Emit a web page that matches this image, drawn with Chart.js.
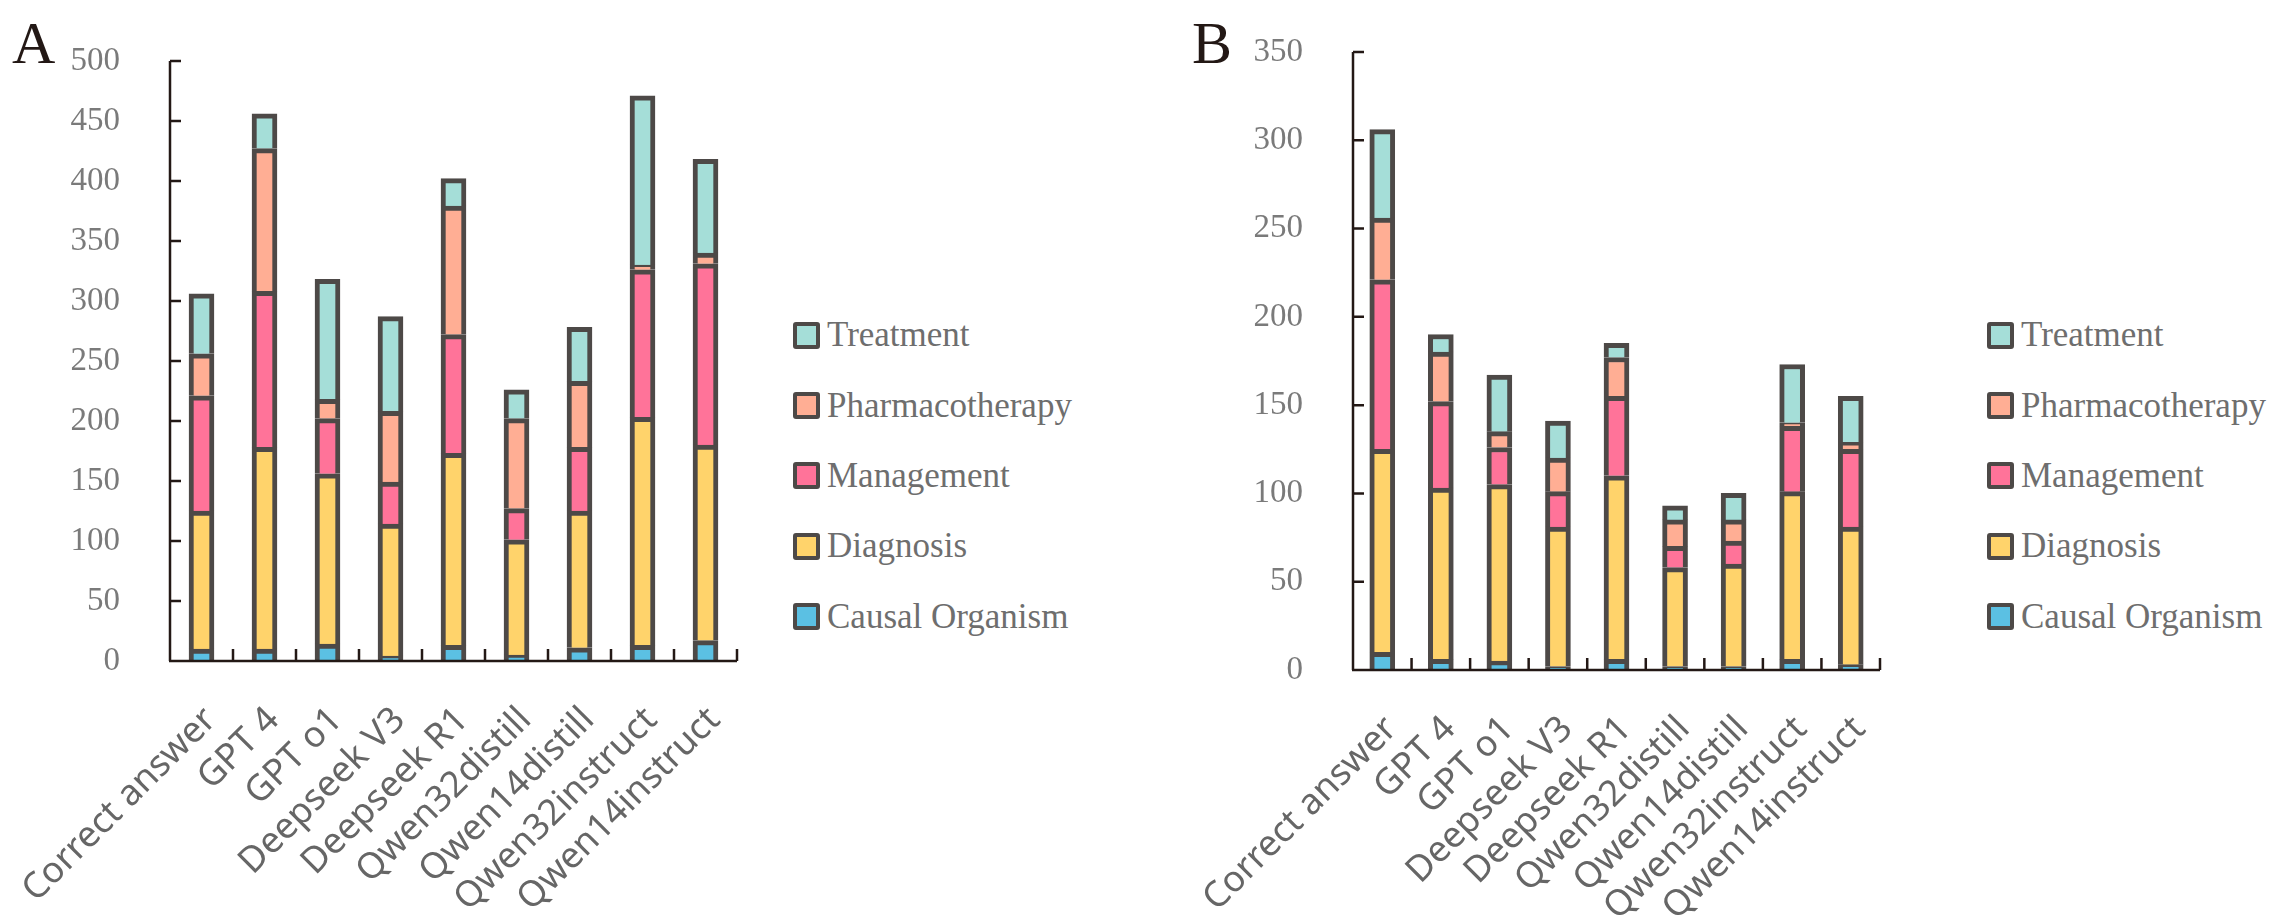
<!DOCTYPE html>
<html>
<head>
<meta charset="utf-8">
<script src="https://cdn.jsdelivr.net/npm/chart.js@4.4.1/dist/chart.umd.min.js"></script>
<style>
  html, body { margin: 0; padding: 0; background: #fff; }
  body { width: 2283px; height: 916px; position: relative; overflow: hidden; }
  .panel { position: absolute; top: 13px; font-family: "Liberation Serif", serif; font-size: 60px; line-height: 60px; color: #231815; }
  .box { position: absolute; top: 0; height: 916px; }
  .legend { position: absolute; top: 300px; font-family: "Liberation Serif", serif; font-size: 35px; color: #6e6e6e; }
  .legend .row { height: 70.4px; display: flex; align-items: center; white-space: nowrap; }
  .legend .swatch { width: 19px; height: 19px; border: 4px solid #4d4947; border-radius: 3px; margin-right: 7px; }
</style>
</head>
<body>
<div class="panel" style="left:12px">A</div>
<div class="panel" style="left:1192px">B</div>
<div class="box" style="left:0; width:776px"><canvas id="chartA"></canvas></div>
<div class="box" style="left:1140px; width:780px"><canvas id="chartB"></canvas></div>
<div class="legend" id="legendA" style="left:793px"></div>
<div class="legend" id="legendB" style="left:1987px"></div>

<script>
// Categories (models)
const models = ["Correct answer", "GPT 4", "GPT o1", "Deepseek V3", "Deepseek R1",
                "Qwen32distill", "Qwen14distill", "Qwen32instruct", "Qwen14instruct"];

// Series, bottom of the stack first
const series = ["Causal Organism", "Diagnosis", "Management", "Pharmacotherapy", "Treatment"];

// Panel A values
const causalA     = [10, 10, 14, 4, 13, 5, 11, 13, 17];
const diagnosisA  = [115, 168, 142, 110, 160, 96, 114, 190, 163];
const managementA = [96, 130, 46, 35, 99, 26, 53, 123, 151];
const pharmaA     = [35, 119, 16, 59, 107, 75, 55, 4, 9];
const treatmentA  = [50, 29, 100, 79, 23, 24, 45, 141, 78];

// Panel B values
const causalB     = [10, 6, 5, 2, 6, 2, 2, 6, 3];
const diagnosisB  = [115, 97, 100, 79, 104, 56, 58, 95, 78];
const managementB = [96, 49, 21, 20, 45, 12, 13, 37, 44];
const pharmaB     = [35, 28, 9, 19, 22, 15, 12, 2, 4];
const treatmentB  = [50, 10, 32, 21, 8, 8, 15, 33, 26];

// Y tick settings
const yMaxA = 500, yMaxB = 350, yStep = 50;

// Colors
const colors = ["#5BC0E3", "#FFD36B", "#FF7399", "#FFAE94", "#A5DED8"];
const edgeColor = "#4d4947";
const axisColor = "#231815";

// Axis lines with inward ticks, drawn from the chart's scales
const axesPlugin = {
    id: "axes",
    afterDatasetsDraw(chart) {
        const { ctx, chartArea: a, scales: { x, y } } = chart;
        const half = (x.getPixelForValue(1) - x.getPixelForValue(0)) / 2;
        ctx.save();
        ctx.strokeStyle = axisColor;
        ctx.lineWidth = 2.5;
        ctx.beginPath();
        ctx.moveTo(a.left, y.getPixelForValue(y.max));
        ctx.lineTo(a.left, a.bottom);
        y.ticks.forEach(t => {
            const py = y.getPixelForValue(t.value);
            ctx.moveTo(a.left, py);
            ctx.lineTo(a.left + 11, py);
        });
        const right = x.getPixelForValue(models.length - 1) + half;
        ctx.moveTo(a.left - 1, a.bottom);
        ctx.lineTo(right, a.bottom);
        models.forEach((m, i) => {
            const px = x.getPixelForValue(i) + half;
            ctx.moveTo(px, a.bottom);
            ctx.lineTo(px, a.bottom - 12);
        });
        ctx.stroke();
        ctx.restore();
    }
};

// Fixed axis sizes so the plot area lands where the reference has it
function noPad(s) {
    s.paddingLeft = 0; s.paddingRight = 0; s.paddingTop = 0; s.paddingBottom = 0;
}

function makeChart(id, values, yMax, yWidth, xHeight, pad) {
    const ctx = document.getElementById(id).getContext("2d");
    return new Chart(ctx, {
        type: "bar",
        data: {
            labels: models,
            datasets: series.map((name, i) => ({
                label: name,
                data: values[i],
                backgroundColor: colors[i],
                borderColor: edgeColor,
                borderWidth: 5,
                barThickness: 25
            }))
        },
        options: {
            responsive: true,
            maintainAspectRatio: false,
            animation: false,
            layout: { padding: pad },
            plugins: {
                legend: { display: false },
                tooltip: { enabled: false }
            },
            scales: {
                x: {
                    stacked: true,
                    grid: { display: false, drawTicks: false },
                    border: { display: false },
                    ticks: {
                        autoSkip: false,
                        maxRotation: 45,
                        minRotation: 45,
                        padding: 38,
                        labelOffset: 9,
                        color: "#666666",
                        font: { family: "Noto Sans", size: 36 }
                    },
                    afterFit: s => { s.height = xHeight; noPad(s); }
                },
                y: {
                    stacked: true,
                    min: 0,
                    max: yMax,
                    grid: { display: false, drawTicks: false },
                    border: { display: false },
                    ticks: {
                        stepSize: yStep,
                        padding: 50,
                        color: "#7a7a7a",
                        font: { family: "Liberation Serif", size: 33 }
                    },
                    afterFit: s => { s.width = yWidth; noPad(s); }
                }
            }
        },
        plugins: [axesPlugin]
    });
}

const chartA = makeChart("chartA", [causalA, diagnosisA, managementA, pharmaA, treatmentA],
    yMaxA, 170, 255, { top: 61, right: 39, bottom: 0, left: 0 });
const chartB = makeChart("chartB", [causalB, diagnosisB, managementB, pharmaB, treatmentB],
    yMaxB, 213, 246, { top: 52, right: 40, bottom: 0, left: 0 });

// Legends, top entry is the top of the stack
function buildLegend(elId) {
    const el = document.getElementById(elId);
    series.slice().reverse().forEach(name => {
        const i = series.indexOf(name);
        const row = document.createElement("div");
        row.className = "row";
        row.innerHTML = `<span class="swatch" style="background:${colors[i]}"></span><span>${name}</span>`;
        el.appendChild(row);
    });
}
buildLegend("legendA");
buildLegend("legendB");
</script>
</body>
</html>
